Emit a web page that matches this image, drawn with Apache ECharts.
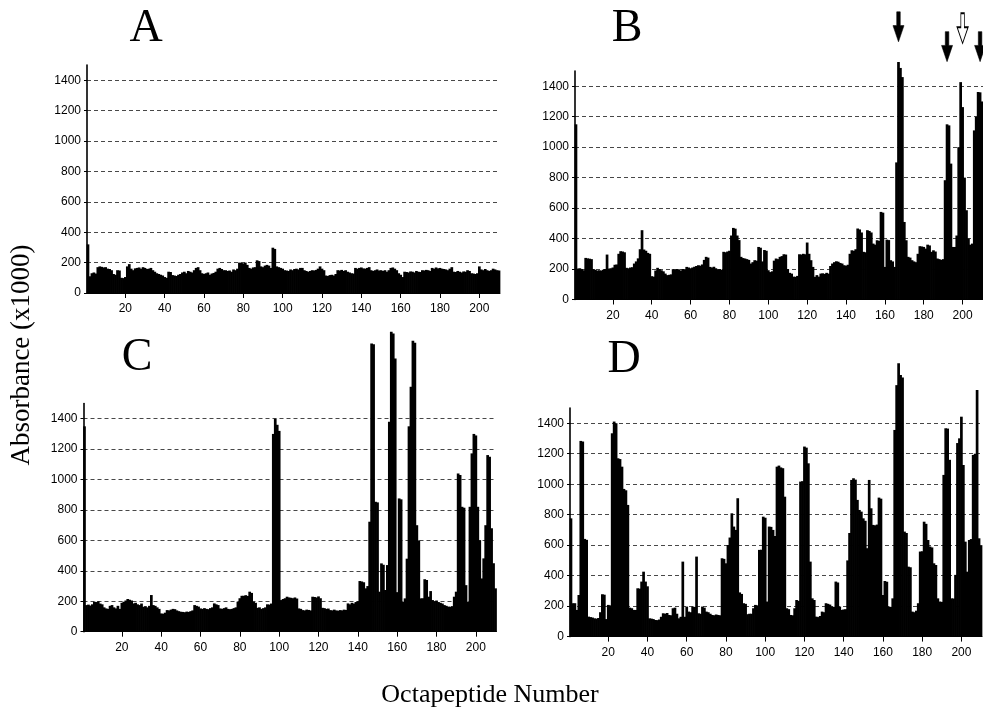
<!DOCTYPE html>
<html>
<head>
<meta charset="utf-8">
<script src="https://cdn.jsdelivr.net/npm/echarts/dist/echarts.min.js"></script>
<style>
html,body{margin:0;padding:0;background:#fff;}
#chart{width:983px;height:717px;}
</style>
</head>
<body>
<div id="chart"></div>
<script>
// ---- data ----
const octapeptides = [];
for (let n = 1; n <= 210; n++) octapeptides.push(String(n));
const xTickLabels = [20, 40, 60, 80, 100, 120, 140, 160, 180, 200];
const yTickValues = [0, 200, 400, 600, 800, 1000, 1200, 1400];
const panelTitles = ['A', 'B', 'C', 'D'];

const absorbanceA = [
  320, 110, 130, 135, 128, 170, 175, 172, 168, 170,
  160, 158, 150, 125, 120, 150, 148, 100, 98, 105,
  175, 190, 160, 150, 162, 165, 168, 160, 170, 165,
  158, 160, 165, 150, 140, 130, 125, 120, 115, 105,
  100, 140, 138, 118, 115, 112, 120, 125, 135, 140,
  130, 145, 140, 135, 150, 165, 170, 150, 130, 125,
  130, 135, 120, 128, 132, 140, 160, 165, 158, 150,
  150, 145, 148, 140, 155, 150, 160, 200, 198, 195,
  200, 185, 165, 160, 168, 170, 215, 210, 175, 170,
  180, 185, 180, 165, 298, 290, 175, 170, 165, 160,
  150, 148, 145, 155, 150, 158, 160, 155, 165, 165,
  150, 145, 140, 145, 150, 148, 152, 160, 175, 160,
  150, 115, 112, 118, 120, 115, 125, 150, 148, 152,
  145, 150, 140, 135, 130, 128, 165, 160, 165, 168,
  162, 160, 165, 170, 150, 145, 150, 155, 148, 150,
  145, 150, 140, 150, 165, 168, 160, 150, 130, 120,
  105, 140, 138, 135, 142, 140, 135, 145, 140, 138,
  150, 148, 152, 150, 145, 165, 160, 168, 162, 165,
  160, 158, 155, 150, 160, 170, 140, 138, 145, 140,
  135, 142, 140, 150, 145, 130, 128, 125, 130, 175,
  155, 150, 158, 150, 145, 150, 160, 155, 150, 148
];

const absorbanceB = [
  1150, 203, 205, 200, 192, 273, 270, 268, 265, 200,
  195, 190, 192, 190, 195, 200, 295, 203, 205, 210,
  228, 230, 300, 317, 315, 310, 208, 205, 210, 212,
  236, 250, 270, 330, 455, 328, 320, 306, 300, 153,
  150, 190, 208, 200, 192, 185, 170, 160, 162, 165,
  199, 195, 200, 198, 190, 200, 199, 214, 210, 205,
  210, 215, 220, 225, 222, 230, 260, 280, 275, 214,
  210, 215, 205, 197, 200, 195, 313, 310, 315, 320,
  420, 470, 465, 420, 390, 280, 272, 269, 265, 260,
  236, 245, 258, 255, 345, 340, 250, 325, 320, 192,
  180, 185, 255, 269, 265, 280, 285, 297, 295, 200,
  175, 170, 150, 149, 155, 297, 295, 300, 297, 374,
  300, 258, 214, 149, 160, 150, 170, 172, 168, 175,
  170, 220, 236, 245, 251, 248, 240, 236, 225, 222,
  228, 300, 323, 320, 330, 466, 460, 440, 313, 310,
  455, 450, 440, 367, 360, 389, 385, 575, 570, 214,
  393, 390, 258, 250, 214, 900, 1559, 1520, 1460, 509,
  389, 280, 275, 258, 250, 245, 300, 350, 348, 345,
  334, 360, 355, 313, 323, 315, 269, 265, 260, 265,
  783, 1150, 1143, 892, 345, 345, 420, 1000, 1427, 1263,
  800, 586, 400, 360, 367, 1110, 1200, 1362, 1360, 1300
];

const absorbanceC = [
  1350, 175, 178, 172, 180, 197, 195, 200, 185, 180,
  160, 153, 150, 170, 175, 160, 153, 170, 150, 190,
  197, 205, 215, 210, 205, 186, 190, 180, 175, 185,
  164, 168, 160, 170, 241, 175, 170, 160, 150, 120,
  118, 125, 142, 140, 145, 150, 148, 140, 135, 131,
  130, 128, 132, 130, 135, 140, 175, 170, 165, 153,
  150, 155, 150, 148, 155, 160, 186, 180, 175, 153,
  150, 155, 160, 150, 148, 150, 155, 160, 197, 220,
  236, 236, 240, 235, 263, 255, 197, 190, 157, 160,
  150, 155, 160, 180, 178, 185, 1300, 1400, 1360, 1320,
  208, 215, 220, 230, 225, 223, 220, 225, 218, 153,
  150, 142, 140, 145, 143, 140, 230, 228, 225, 232,
  220, 157, 155, 150, 152, 142, 140, 145, 140, 138,
  142, 140, 145, 143, 186, 180, 190, 185, 195, 200,
  333, 330, 325, 285, 300, 723, 1894, 1890, 854, 850,
  263, 449, 440, 274, 438, 1380, 1971, 1960, 1796, 260,
  876, 870, 197, 219, 480, 1350, 1610, 1912, 1900, 700,
  600, 219, 220, 345, 340, 230, 267, 208, 200, 205,
  195, 190, 185, 175, 170, 165, 164, 168, 230, 263,
  1040, 1030, 821, 815, 306, 197, 821, 1172, 1300, 1290,
  821, 602, 350, 482, 700, 1161, 1150, 680, 450, 285
];

const absorbanceD = [
  776, 219, 219, 175, 273, 1284, 1280, 641, 635, 131,
  128, 125, 120, 118, 122, 160, 278, 275, 115, 208,
  205, 1334, 1411, 1400, 1170, 1165, 1115, 969, 960, 864,
  190, 186, 175, 175, 317, 315, 361, 426, 361, 330,
  120, 118, 115, 109, 108, 112, 130, 153, 150, 155,
  142, 140, 186, 190, 150, 120, 130, 492, 130, 197,
  164, 160, 197, 195, 525, 153, 150, 197, 190, 164,
  160, 150, 142, 140, 145, 142, 140, 514, 510, 481,
  601, 650, 809, 722, 700, 908, 290, 280, 219, 215,
  147, 150, 150, 186, 208, 205, 569, 570, 787, 780,
  230, 722, 720, 700, 660, 1115, 1122, 1110, 1105, 918,
  186, 180, 142, 140, 186, 240, 235, 1017, 1020, 1247,
  1240, 1137, 492, 251, 240, 131, 128, 135, 164, 160,
  219, 215, 210, 197, 195, 361, 355, 197, 175, 178,
  180, 500, 680, 1028, 1039, 1030, 897, 831, 820, 776,
  760, 580, 1028, 842, 733, 730, 735, 912, 905, 273,
  365, 360, 197, 195, 251, 1356, 1650, 1793, 1717, 1700,
  689, 680, 459, 455, 164, 160, 170, 219, 558, 560,
  754, 740, 634, 591, 585, 481, 470, 251, 230, 228,
  1061, 1367, 1365, 1160, 251, 250, 405, 1270, 1301, 1443,
  1126, 623, 426, 634, 640, 1192, 1200, 1618, 645, 600
];

// arrows marking peaks in panel B (octapeptide number, level in absorbance units)
const arrowPeptidesB = ['167', '192', '200', '209'];
const arrowLevelsB = [1790, 1660, 1780, 1660];
const arrowHollowB = [false, false, true, false];

// ---- layout / style ----
const panelData = [absorbanceA, absorbanceB, absorbanceC, absorbanceD];
const gridBoxes = [
  {left: 87,  top: 65,  width: 413, height: 228},
  {left: 575, top: 71,  width: 411, height: 228.5},
  {left: 83.5,top: 403.5, width: 413, height: 228.2},
  {left: 570, top: 408, width: 412, height: 228.6}
];
const titlePos = [[146, 29], [627, 29], [137, 358], [624, 360]];
const arrowPath = 'path://M34,0 L66,0 L66,46 L100,46 L50,100 L0,46 L34,46 Z';
const labelFont = 'Liberation Sans, Arial, sans-serif';

const showTick = (i, v) => xTickLabels.indexOf(Number(v)) >= 0;
const grids = [], xAxes = [], yAxes = [], series = [], graphics = [];

panelData.forEach((vals, k) => {
  grids.push(Object.assign({}, gridBoxes[k]));
  xAxes.push({
    gridIndex: k, type: 'category', data: octapeptides, boundaryGap: true,
    axisLine: {show: true, onZero: false, lineStyle: {color: '#000', width: 1}},
    axisTick: {show: true, alignWithLabel: true, interval: showTick, length: 5, lineStyle: {color: '#000', width: 1}},
    axisLabel: {interval: showTick, margin: 10, fontSize: 12, color: '#000', fontFamily: labelFont},
    splitLine: {show: false}
  });
  yAxes.push({
    gridIndex: k, type: 'value', min: 0, max: 1500, interval: 200,
    axisLine: {show: true, lineStyle: {color: '#000', width: 1.6}},
    axisTick: {show: true, length: 3, lineStyle: {color: '#000'}},
    axisLabel: {showMaxLabel: false, margin: 6, fontSize: 12, color: '#000', fontFamily: labelFont,
      formatter: (v) => String(v)},
    splitLine: {show: true, showMinLine: false, showMaxLine: false,
      lineStyle: {color: '#333', width: 0.9, type: [4, 3]}}
  });
  series.push({
    type: 'bar', xAxisIndex: k, yAxisIndex: k, data: vals,
    barWidth: 2.7, barGap: '-100%', clip: false, silent: true,
    itemStyle: {color: '#000'}
  });
  graphics.push({
    type: 'text', x: titlePos[k][0], y: titlePos[k][1],
    style: {text: panelTitles[k], font: '46px "Liberation Serif", "Times New Roman", serif',
      fill: '#000', textAlign: 'center', textVerticalAlign: 'middle', align: 'center', verticalAlign: 'middle'}
  });
});

// arrows above panel B peaks
series.push({
  type: 'scatter', xAxisIndex: 1, yAxisIndex: 1, clip: false, silent: true,
  data: arrowPeptidesB.map((p, j) => ({
    value: [p, arrowLevelsB[j]],
    symbol: arrowPath, symbolSize: [11, 30],
    itemStyle: arrowHollowB[j]
      ? {color: '#fff', borderColor: '#000', borderWidth: 1.2, opacity: 1}
      : {color: '#000', borderColor: '#000', borderWidth: 0.5, opacity: 1}
  }))
});

graphics.push({
  type: 'text', x: 22, y: 355, rotation: Math.PI / 2,
  style: {text: 'Absorbance (x1000)', font: '27px "Liberation Serif", "Times New Roman", serif',
    fill: '#000', textAlign: 'center', textVerticalAlign: 'middle', align: 'center', verticalAlign: 'middle'}
});
graphics.push({
  type: 'text', x: 490, y: 695,
  style: {text: 'Octapeptide Number', font: '26px "Liberation Serif", "Times New Roman", serif',
    fill: '#000', textAlign: 'center', textVerticalAlign: 'middle', align: 'center', verticalAlign: 'middle'}
});

const chart = echarts.init(document.getElementById('chart'), null, {renderer: 'canvas'});
chart.setOption({
  backgroundColor: '#fff',
  animation: false,
  grid: grids,
  xAxis: xAxes,
  yAxis: yAxes,
  series: series,
  graphic: graphics
});
</script>
</body>
</html>
